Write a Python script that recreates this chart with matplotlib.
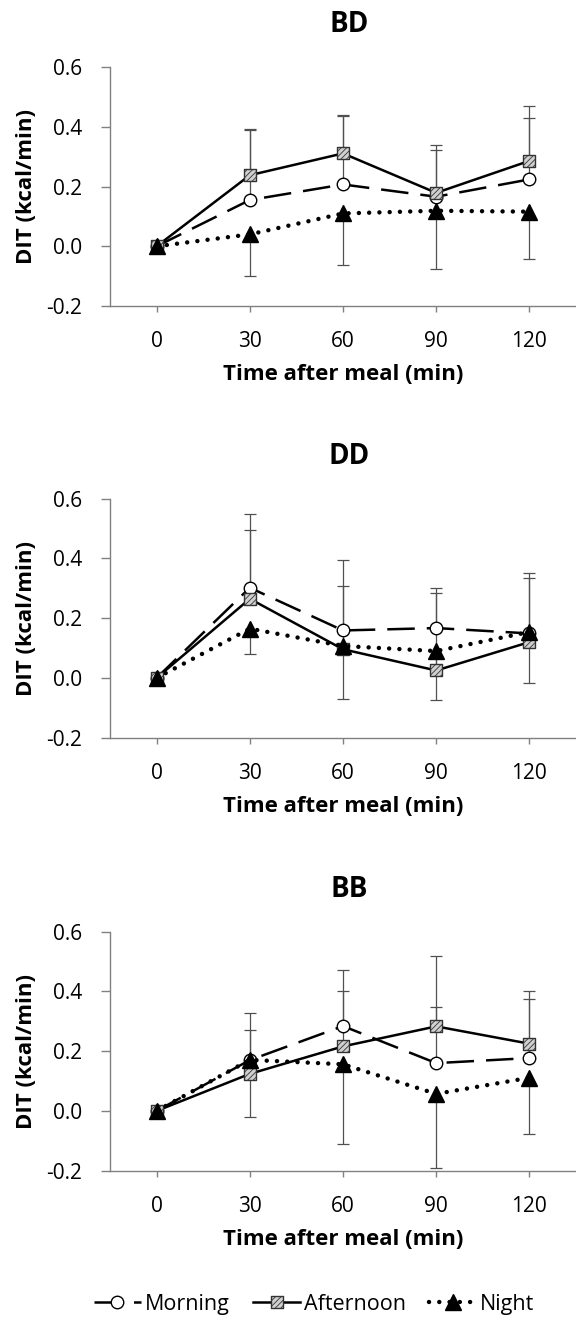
import numpy as np
import matplotlib
matplotlib.use('Agg')
import matplotlib.pyplot as plt
from matplotlib.legend_handler import HandlerTuple

plt.rcParams['font.family'] = ['Open Sans', 'DejaVu Sans']
plt.rcParams['axes.unicode_minus'] = False
plt.rcParams['hatch.color'] = '#6a6a6a'
plt.rcParams['hatch.linewidth'] = 0.6

# Data
times = [0, 30, 60, 90, 120]
panels = ['BD', 'DD', 'BB']

bd_morning = [0, 0.155, 0.207, 0.166, 0.224]
bd_afternoon = [0, 0.238, 0.311, 0.179, 0.286]
bd_night = [0, 0.040, 0.110, 0.119, 0.116]
bd_morning_sd = [0, 0.235, 0.228, 0.156, 0.204]
bd_afternoon_sd = [0, 0.154, 0.128, 0.161, 0.184]
bd_night_sd = [0, 0.138, 0.173, 0.194, 0.159]

dd_morning = [0, 0.302, 0.159, 0.167, 0.149]
dd_afternoon = [0, 0.265, 0.096, 0.025, 0.120]
dd_night = [0, 0.165, 0.107, 0.090, 0.154]
dd_morning_sd = [0, 0.248, 0.236, 0.133, 0.201]
dd_afternoon_sd = [0, 0.230, 0.212, 0.258, 0.215]
dd_night_sd = [0, 0.086, 0.178, 0.165, 0.171]

bb_morning = [0, 0.170, 0.284, 0.160, 0.177]
bb_afternoon = [0, 0.124, 0.216, 0.283, 0.225]
bb_night = [0, 0.171, 0.156, 0.057, 0.111]
bb_morning_sd = [0, 0.158, 0.188, 0.189, 0.197]
bb_afternoon_sd = [0, 0.146, 0.186, 0.234, 0.175]
bb_night_sd = [0, 0.191, 0.266, 0.248, 0.187]

data = {
    'BD': (bd_morning, bd_afternoon, bd_night, bd_morning_sd, bd_afternoon_sd, bd_night_sd),
    'DD': (dd_morning, dd_afternoon, dd_night, dd_morning_sd, dd_afternoon_sd, dd_night_sd),
    'BB': (bb_morning, bb_afternoon, bb_night, bb_morning_sd, bb_afternoon_sd, bb_night_sd),
}

EC = '#505050'
AXC = '#808080'


def err_bars(ax, y, sd, up=True):
    x = np.array(times)
    y = np.array(y)
    sd = np.array(sd)
    m = sd > 0
    end = y + sd if up else y - sd
    ax.vlines(x[m], y[m], end[m], colors=EC, lw=0.9, zorder=2)
    ax.plot(x[m], end[m], ls='none', marker='_', ms=8, mew=0.9, color=EC, zorder=2)


fig = plt.figure(figsize=(5.76, 13.18), dpi=100)
bottoms = [0.7678, 0.4403, 0.1118]

for name, b in zip(panels, bottoms):
    morning, afternoon, night, m_sd, a_sd, n_sd = data[name]
    ax = fig.add_axes([0.191, b, 0.809, 0.1813])

    err_bars(ax, morning, m_sd, up=True)
    err_bars(ax, afternoon, a_sd, up=True)
    err_bars(ax, night, n_sd, up=False)

    lm, = ax.plot(times, morning, color='black', lw=1.8, ls=(0, (11, 4.8)),
                  marker='o', ms=9, mfc='white', mec='black', mew=1, zorder=3)
    la, = ax.plot(times, afternoon, color='black', lw=1.8, zorder=3)
    sa = ax.scatter(times, afternoon, marker='s', s=75, facecolor='#d0d0d0',
                    edgecolor='#333333', linewidth=1, hatch='//////', zorder=3.1)
    ln, = ax.plot(times, night, color='black', lw=3.2, ls=(0, (0.01, 2.3)),
                  dash_capstyle='round', marker='^', ms=12, mfc='black',
                  mec='black', zorder=3.2)

    ax.set_xlim(-15, 135)
    ax.set_ylim(-0.2, 0.6)
    ax.set_xticks(times)
    ax.set_yticks([-0.2, 0.0, 0.2, 0.4, 0.6])
    ax.set_yticklabels([f'{v:.1f}' for v in [-0.2, 0.0, 0.2, 0.4, 0.6]])
    for s in ['top', 'right']:
        ax.spines[s].set_visible(False)
    for s in ['left', 'bottom']:
        ax.spines[s].set_color(AXC)
        ax.spines[s].set_linewidth(1)
    ax.tick_params(axis='y', direction='out', length=6.5, width=1, color=AXC,
                   pad=13.5, labelsize=15)
    ax.tick_params(axis='x', direction='out', length=4.5, width=1, color=AXC,
                   pad=13.5, labelsize=15)

    ax.set_ylabel('DIT (kcal/min)', fontsize=16, fontweight='bold')
    ax.yaxis.set_label_coords(-0.157, 0.5)
    ax.set_xlabel('Time after meal (min)', fontsize=16, fontweight='bold')
    ax.xaxis.set_label_coords(0.5, -0.243)
    ax.text(0.513, 1.146, name, transform=ax.transAxes, ha='center',
            va='baseline', fontsize=20, fontweight='bold')

fig.legend([lm, (la, sa), ln], ['Morning', 'Afternoon', 'Night'],
           loc='center', bbox_to_anchor=(0.545, 0.0105), ncol=3, frameon=False,
           fontsize=15.5, handlelength=2.2, handletextpad=0.15,
           columnspacing=1.1, scatteryoffsets=[0.5],
           handler_map={tuple: HandlerTuple(ndivide=1)})

fig.savefig('out.png', dpi=100)
